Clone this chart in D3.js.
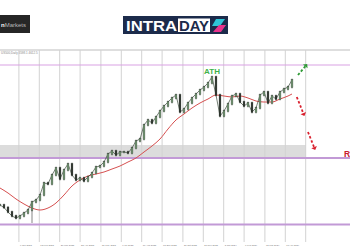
<!DOCTYPE html>
<html>
<head>
<meta charset="utf-8">
<script src="https://cdn.jsdelivr.net/npm/d3@7"></script>
<style>
  body { margin: 0; background: #fff; }
  svg { display: block; font-family: "Liberation Sans", Arial, sans-serif; }
</style>
</head>
<body>
<svg width="350" height="250"></svg>
<script>
// daily closes, one per bar
const closes = [3350, 3325, 3280, 3240, 3220, 3240, 3270, 3300, 3380, 3400,
  3450, 3570, 3560, 3650, 3720, 3610, 3700, 3760, 3650, 3600,
  3620, 3590, 3630, 3670, 3730, 3740, 3780, 3860, 3890, 3850,
  3880, 3880, 3870, 3920, 3990, 4010, 4150, 4200, 4170, 4230,
  4290, 4340, 4380, 4420, 4450, 4280, 4310, 4370, 4420, 4460,
  4500, 4530, 4570, 4630, 4450, 4240, 4290, 4360, 4440, 4460,
  4380, 4340, 4370, 4280, 4320, 4450, 4480, 4370, 4440, 4410,
  4480, 4510, 4530, 4600];
// moving average, [bar, value]
const maPoints = [[0,3520],[2,3470],[4,3410],[6,3360],[8,3320],[10,3300],[12,3320],[14,3370],
  [16,3450],[18,3540],[20,3600],[22,3640],[24,3660],[26,3680],[28,3710],[30,3740],[32,3780],
  [34,3820],[36,3880],[38,3940],[40,4010],[42,4110],[44,4200],[46,4260],[48,4320],[50,4370],
  [52,4410],[54,4450],[56,4440],[58,4430],[60,4440],[62,4420],[64,4390],[66,4380],[68,4380],
  [70,4410],[72,4440],[73,4460]];
const spikeLow = [8, 3170];
const levels = [4750, 3820, 3155];
const zone = [3820, 3950];
const athBar = 53;
// projected paths, [bar, price] from -> to
const upArrow = [[74.5, 4650], [76.8, 4760]];
const downArrows = [[[74.2, 4430], [76.1, 4240]], [[77.0, 4080], [78.8, 3900]]];
const tickBars = [4.6, 9.7, 14.8, 19.9, 25.1, 30.2, 35.3, 40.4, 45.6, 50.7, 55.8, 60.9, 66.1, 71.2, 76.3];
const tickLabels = ["6 Jan 2023", "13 Feb 2023", "20 Mar 2023", "25 Apr 2023", "31 May 2023",
  "6 Jul 2023", "10 Aug 2023", "15 Sep 2023", "20 Oct 2023", "27 Nov 2023", "3 Jan 2024",
  "7 Feb 2024", "13 Mar 2024", "18 Apr 2024", ""];

let svg = d3.select("svg");
let W = 350, chartRight = 306, plotTop = 50, plotBottom = 242;

let x = d3.scaleLinear().domain([0, 76.5]).range([0, chartRight]);
let y = d3.scaleLinear().domain([3000, 4900]).range([240, plotTop]);

// --- logos
svg.append("rect").attr("x", 0).attr("y", 15).attr("width", 30).attr("height", 18).attr("fill", "#262626");
let lt = svg.append("text").attr("x", 1).attr("y", 26.5).attr("font-size", 6);
lt.append("tspan").attr("fill", "#fff").attr("font-weight", "bold").text("n");
lt.append("tspan").attr("fill", "#b8b8b8").text("Markets");

svg.append("rect").attr("x", 123).attr("y", 16).attr("width", 105).attr("height", 18).attr("fill", "#1c2b4b");
svg.append("text").attr("x", 126).attr("y", 31).attr("font-size", 15).attr("font-weight", "bold")
  .attr("fill", "#fff").attr("textLength", 51).attr("lengthAdjust", "spacingAndGlyphs").text("INTRA");
svg.append("rect").attr("x", 178).attr("y", 18.5).attr("width", 32).attr("height", 13.5).attr("fill", "#fff");
svg.append("text").attr("x", 179).attr("y", 31).attr("font-size", 15).attr("font-weight", "bold")
  .attr("fill", "#1c2b4b").attr("textLength", 30).attr("lengthAdjust", "spacingAndGlyphs").text("DAY");
svg.append("path").attr("d", "M216,19 L225,19 L220,26 L212,26 Z").attr("fill", "#2ec5d8");
svg.append("path").attr("d", "M219,25 L226,25 L221,32 L213,32 Z").attr("fill", "#e8328c");

// --- chart frame + grid
svg.append("line").attr("x1", 0).attr("x2", W).attr("y1", plotTop).attr("y2", plotTop)
  .attr("stroke", "#bdbdbd").attr("stroke-width", 1);
svg.append("text").attr("x", 1).attr("y", 53.5).attr("font-size", 3).attr("fill", "#888")
  .text("US500,Daily 4598.1 4612.5");

svg.append("rect").attr("x", 0).attr("width", chartRight)
  .attr("y", y(zone[1])).attr("height", y(zone[0]) - y(zone[1])).attr("fill", "#dcdcdc");

let xAxis = d3.axisBottom(x).tickValues(tickBars)
  .tickFormat((d, i) => tickLabels[i]).tickSize(-(plotBottom - plotTop)).tickPadding(2);
let xGroup = svg.append("g").attr("transform", "translate(0," + plotBottom + ")").call(xAxis);
xGroup.select(".domain").remove();
xGroup.selectAll("line").attr("stroke", "#d2d2d2").attr("stroke-width", 1);
xGroup.selectAll("text").attr("font-size", 2.4).attr("fill", "#777")
  .attr("text-anchor", "start").attr("x", 1).attr("font-family", "Liberation Sans");

// --- horizontal levels
svg.selectAll("line.level").data(levels).enter().append("line").attr("class", "level")
  .attr("x1", 0).attr("x2", W).attr("y1", d => y(d)).attr("y2", d => y(d))
  .attr("stroke", (d, i) => i == 0 ? "#d9a2e4" : "#c29ad6")
  .attr("stroke-width", (d, i) => i == 0 ? 1.2 : 2);

// --- moving average
let ma = d3.line().x(d => x(d[0])).y(d => y(d[1])).curve(d3.curveMonotoneX);
svg.append("path").attr("d", ma(maPoints)).attr("fill", "none")
  .attr("stroke", "#d65050").attr("stroke-width", 1);

// --- candles (open = previous close)
let candles = closes.map((c, i) => ({ i: i, o: i ? closes[i - 1] : c, c: c }));
let cg = svg.append("g");
let closeLine = d3.line().x((d, i) => x(i)).y(d => y(d));
cg.append("path").attr("d", closeLine(closes)).attr("fill", "none")
  .attr("stroke", "#3b4a3b").attr("stroke-width", 0.7);
cg.append("line").attr("x1", x(spikeLow[0])).attr("x2", x(spikeLow[0]))
  .attr("y1", y(closes[spikeLow[0]])).attr("y2", y(spikeLow[1]))
  .attr("stroke", "#333").attr("stroke-width", 0.6);
cg.selectAll("line.wick").data(candles).enter().append("line").attr("class", "wick")
  .attr("x1", d => x(d.i)).attr("x2", d => x(d.i))
  .attr("y1", d => y(Math.max(d.o, d.c)) - 1.5).attr("y2", d => y(Math.min(d.o, d.c)) + 1.5)
  .attr("stroke", "#2b332b").attr("stroke-width", 0.5);
cg.selectAll("rect").data(candles).enter().append("rect")
  .attr("x", d => x(d.i) - 0.9).attr("width", 1.8)
  .attr("y", d => y(Math.max(d.o, d.c)) - 0.5)
  .attr("height", d => Math.abs(y(d.o) - y(d.c)) + 1)
  .attr("fill", d => d.c >= d.o ? "#7fa97f" : "#2a2f2a")
  .attr("stroke", "#2b332b").attr("stroke-width", 0.4);

// --- annotations
svg.append("text").attr("x", x(athBar)).attr("y", y(closes[athBar]) - 3)
  .attr("text-anchor", "middle").attr("font-size", 8).attr("font-weight", "bold")
  .attr("fill", "#3fb24a").text("ATH");

function arrow(seg, color) {
  let p0 = [x(seg[0][0]), y(seg[0][1])], p1 = [x(seg[1][0]), y(seg[1][1])];
  let a = Math.atan2(p1[1] - p0[1], p1[0] - p0[0]);
  let back = [p1[0] - 3 * Math.cos(a), p1[1] - 3 * Math.sin(a)];
  svg.append("line").attr("x1", p0[0]).attr("y1", p0[1]).attr("x2", back[0]).attr("y2", back[1])
    .attr("stroke", color).attr("stroke-width", 1.8).attr("stroke-dasharray", "2.5,2");
  let s = 3;
  let pts = [p1,
    [back[0] + s * Math.cos(a + Math.PI / 2), back[1] + s * Math.sin(a + Math.PI / 2)],
    [back[0] + s * Math.cos(a - Math.PI / 2), back[1] + s * Math.sin(a - Math.PI / 2)]];
  svg.append("path").attr("d", "M" + pts.join("L") + "Z").attr("fill", color);
}
arrow(upArrow, "#2e9a35");
downArrows.forEach(s => arrow(s, "#d9202e"));

svg.append("text").attr("x", 344).attr("y", y(levels[1]) - 1.5).attr("font-size", 8.5)
  .attr("font-weight", "bold").attr("fill", "#c8202c").text("R");
</script>
</body>
</html>
